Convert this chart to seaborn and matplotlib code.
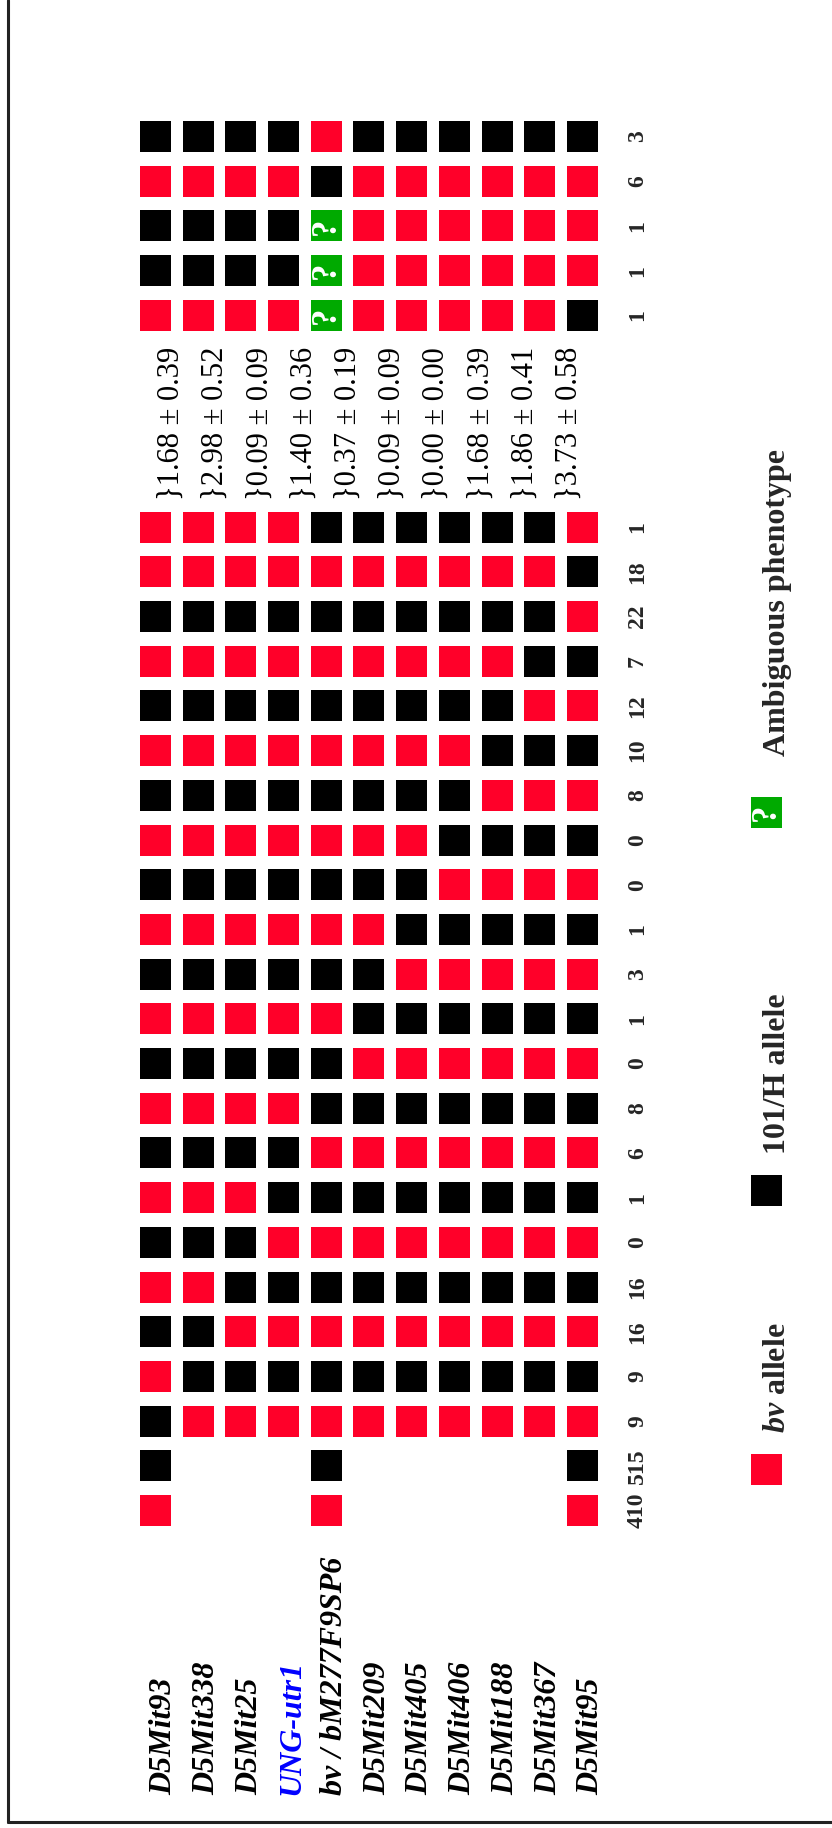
import numpy as np
import pandas as pd
import matplotlib
matplotlib.use("Agg")
import matplotlib.pyplot as plt
import seaborn as sns
from matplotlib.lines import Line2D

# ---------------------------------------------------------------- data
markers = ["D5Mit93", "D5Mit338", "D5Mit25", "UNG-utr1", "bv / bM277F9SP6",
           "D5Mit209", "D5Mit405", "D5Mit406", "D5Mit188", "D5Mit367", "D5Mit95"]
marker_colors = ["black", "black", "black", "#0000FF", "black",
                 "black", "black", "black", "black", "black", "black"]

# genotype codes per marker: R = bv allele, B = 101/H allele,
# G = ambiguous phenotype, - = not typed
upper_haplotypes = ["BBBBRBBBBBB",
                    "RRRRBRRRRRR",
                    "BBBBGRRRRRR",
                    "BBBBGRRRRRR",
                    "RRRRGRRRRRB"]
upper_counts = [3, 6, 1, 1, 1]

lower_haplotypes = ["RRRRBBBBBBR",
                    "RRRRRRRRRRB",
                    "BBBBBBBBBBR",
                    "RRRRRRRRRBB",
                    "BBBBBBBBBRR",
                    "RRRRRRRRBBB",
                    "BBBBBBBBRRR",
                    "RRRRRRRBBBB",
                    "BBBBBBBRRRR",
                    "RRRRRRBBBBB",
                    "BBBBBBRRRRR",
                    "RRRRRBBBBBB",
                    "BBBBBRRRRRR",
                    "RRRRBBBBBBB",
                    "BBBBRRRRRRR",
                    "RRRBBBBBBBB",
                    "BBBRRRRRRRR",
                    "RRBBBBBBBBB",
                    "BBRRRRRRRRR",
                    "RBBBBBBBBBB",
                    "BRRRRRRRRRR",
                    "B---B-----B",
                    "R---R-----R"]
lower_counts = [1, 18, 22, 7, 12, 10, 8, 0, 0, 1, 3, 1, 0, 8, 6, 1, 0, 16, 16, 9, 9, 515, 410]

# genetic distance (cM +/- SE) between neighbouring markers
interval_cM = ["1.68 ± 0.39", "2.98 ± 0.52", "0.09 ± 0.09", "1.40 ± 0.36",
               "0.37 ± 0.19", "0.09 ± 0.09", "0.00 ± 0.00", "1.68 ± 0.39",
               "1.86 ± 0.41", "3.73 ± 0.58"]

allele_names = {"R": "bv", "B": "101/H", "G": "ambiguous"}
allele_palette = {"bv": "#FF0029", "101/H": "#000000", "ambiguous": "#00AA00"}
legend_items = [("R", r"$\mathit{bv}$ allele"),
                ("B", "101/H allele"),
                ("G", "Ambiguous phenotype")]

# ---------------------------------------------------------------- layout
W, H, DPI = 832, 1828, 100
X0, XP = 155.5, 42.7      # first marker column centre / column pitch (px)
Y0, YP = 136.5, 44.7      # first haplotype row centre / row pitch (px)
LOWER_START = 8.74        # row index of the first haplotype in the lower block
SQ = 31                   # square side in px
IV_X0, IV_XP = 179, 44.2  # baseline of the first interval label / label pitch (px)


def cx(px):
    return (px - X0) / XP


def ry(py):
    return (py - Y0) / YP


# ---------------------------------------------------------------- style
sns.set_theme(style="white")
plt.rcParams["font.family"] = ["Liberation Serif", "DejaVu Serif"]
plt.rcParams["mathtext.fontset"] = "custom"
plt.rcParams["mathtext.it"] = "Liberation Serif:italic:bold"
plt.rcParams["mathtext.rm"] = "Liberation Serif:bold"

# ---------------------------------------------------------------- tidy table
records = []
row_pos = []
for block, start in ((upper_haplotypes, 0.0), (lower_haplotypes, LOWER_START)):
    for i, hap in enumerate(block):
        r = start + i
        row_pos.append(r)
        for c, code in enumerate(hap):
            if code != "-":
                records.append({"col": c, "row": r, "allele": allele_names[code]})
row_counts = upper_counts + lower_counts
cells = pd.DataFrame(records)

fig = plt.figure(figsize=(W / DPI, H / DPI), dpi=DPI)
ax = fig.add_axes([0, 0, 1, 1])

marker_area = (SQ * 72 / DPI) ** 2
sns.scatterplot(data=cells, x="col", y="row", hue="allele", palette=allele_palette,
                marker="s", s=marker_area, linewidth=0, legend=False, ax=ax)

# question marks on ambiguous cells
amb = cells[cells["allele"] == "ambiguous"]
for _, rec in amb.iterrows():
    ax.text(rec["col"], rec["row"], "?", color="white", fontsize=25, fontweight="bold",
            rotation=90, rotation_mode="anchor", ha="center", va="center")

# haplotype counts at the end of each row
for r, n in zip(row_pos, row_counts):
    ax.text(cx(643), r, str(n), fontsize=17, fontweight="bold",
            rotation=90, rotation_mode="anchor", ha="center", va="baseline")

# marker names
for c, (name, col) in enumerate(zip(markers, marker_colors)):
    ax.text(c + 0.375, ry(1795), name, color=col, fontsize=23, fontweight="bold",
            fontstyle="italic", rotation=90, rotation_mode="anchor",
            ha="left", va="baseline")

# intervals between neighbouring markers
for k, val in enumerate(interval_cM):
    ax.text(cx(IV_X0 + IV_XP * k), ry(500), "}" + val, fontsize=22, color="black",
            rotation=90, rotation_mode="anchor", ha="left", va="baseline")

# legend
legend_rows = [ry(1469.5), ry(1190.5), ry(812)]
legend_text_start = [ry(1433), ry(1154), ry(756)]
leg = pd.DataFrame({"col": [cx(766.5)] * 3, "row": legend_rows,
                    "allele": [allele_names[k] for k, _ in legend_items]})
sns.scatterplot(data=leg, x="col", y="row", hue="allele", palette=allele_palette,
                marker="s", s=marker_area, linewidth=0, legend=False, ax=ax)
ax.text(cx(766.5), legend_rows[2], "?", color="white", fontsize=25, fontweight="bold",
        rotation=90, rotation_mode="anchor", ha="center", va="center")
for (code, label), y0 in zip(legend_items, legend_text_start):
    ax.text(cx(785), y0, label, fontsize=23, fontweight="bold",
            rotation=90, rotation_mode="anchor", ha="left", va="baseline")

ax.set_xlim(cx(0), cx(W))
ax.set_ylim(ry(H), ry(0))
ax.axis("off")

# frame lines on the left and bottom edges
fig.add_artist(Line2D([8 / W, 8 / W], [(H - 1822) / H, 1.0], transform=fig.transFigure,
                      color="#222222", linewidth=2.2))
fig.add_artist(Line2D([8 / W, 1.0], [(H - 1822) / H, (H - 1822) / H],
                      transform=fig.transFigure, color="#222222", linewidth=2.2))

fig.savefig("out.png", dpi=DPI, facecolor="white")
